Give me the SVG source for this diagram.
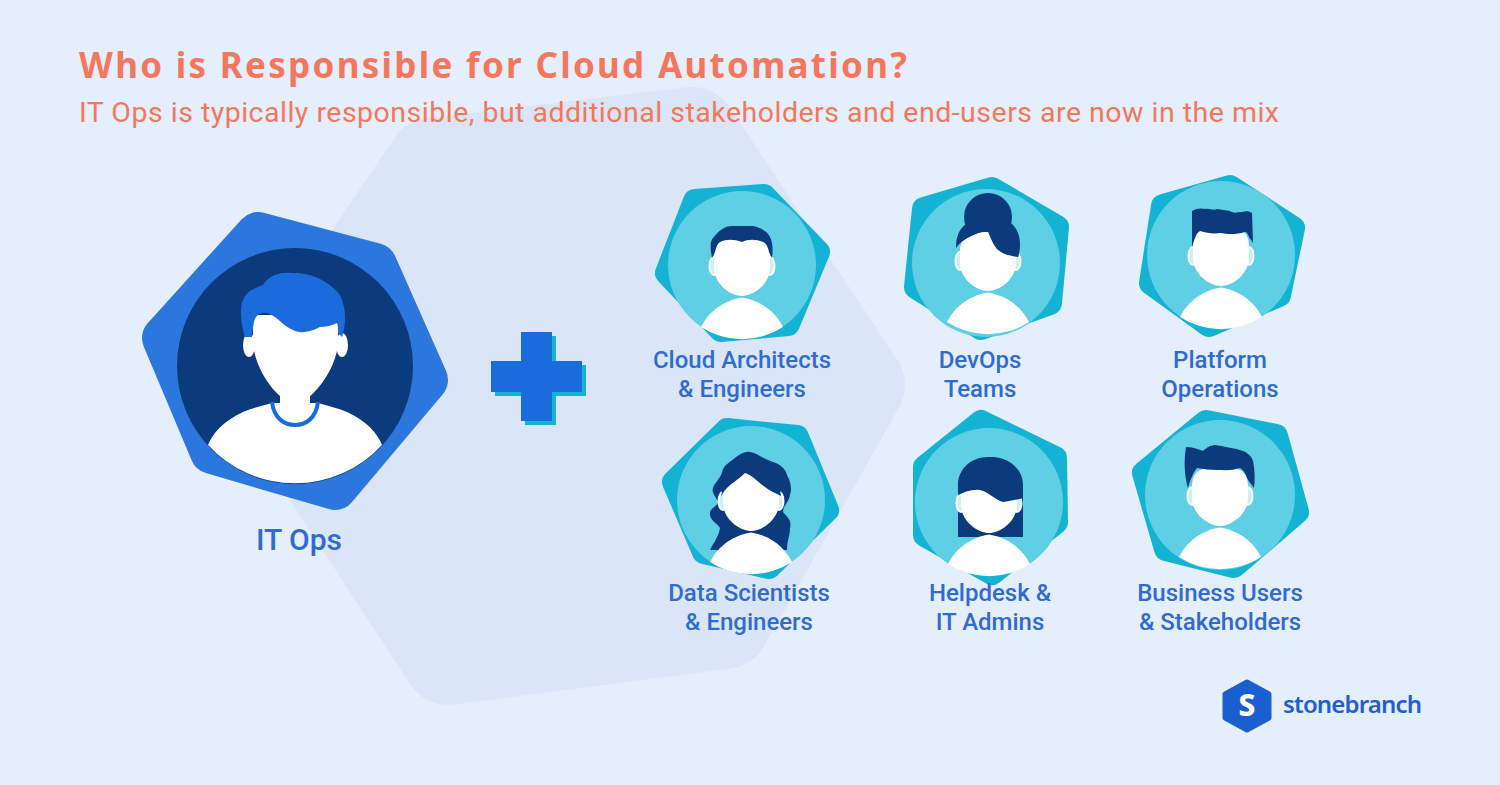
<svg xmlns="http://www.w3.org/2000/svg" width="1500" height="785" viewBox="0 0 1500 785">
<style>
.lbl{font-family:Roboto,"Liberation Sans",sans-serif;font-weight:500;font-size:24px;fill:#2f6bd0;text-anchor:middle}
.hex{fill:#14b3d3;stroke:#14b3d3;stroke-width:24;stroke-linejoin:round}
.disc{fill:#5ecfe4}
.hair{fill:#0b3a7d}
.w{fill:#fff}
.ear{fill:#cdf0f6;stroke:#fff;stroke-width:2}
</style>
<defs>
<g id="person">
<ellipse class="ear" cx="-28" cy="1" rx="4.500" ry="9"/><ellipse class="ear" cx="28" cy="1" rx="4.500" ry="9"/>
<path class="w" d="M-28,-8C-28,-24-20,-28 0,-28C20,-28 28,-24 28,-8L28,4C27,20 11,31 0,31C-11,31-27,20-28,4Z"/>
<path class="w" d="M-41,62C-35,50-22,36 0,32.500C22,36 35,50 41,62A75,75 0 0 1-41,62Z"/>
</g>
</defs>
<rect width="1500" height="785" fill="#e4eefc"/>
<polygon points="432,163 692,132 860,385 725,624 448,660 275,395" fill="#dae6f7" stroke="#dae6f7" stroke-width="90" stroke-linejoin="round"/>
<text x="79" y="78" font-family="'Noto Sans','Open Sans',sans-serif" font-weight="700" font-size="35" fill="#f4775c" textLength="828" lengthAdjust="spacing">Who is Responsible for Cloud Automation?</text>
<text x="79" y="122" font-family="Roboto,'Liberation Sans',sans-serif" font-size="28.500" fill="#f4775c" textLength="1200" lengthAdjust="spacing">IT Ops is typically responsible, but additional stakeholders and end-users are now in the mix</text>

<g id="it-ops">
<polygon points="258,234 375,265 426,380 335,488 212,452 164,338" fill="#2b77de" stroke="#2b77de" stroke-width="44" stroke-linejoin="round"/>
<circle cx="295" cy="366" r="118" fill="#0b3a7d"/>
<ellipse class="w" cx="249" cy="345" rx="6" ry="12"/><ellipse class="w" cx="342" cy="345" rx="6" ry="12"/>
<path class="w" d="M253,315L253,345C256,368 270,388 281,397L309,397C320,388 335,368 338,345L338,315Z"/>
<path class="w" d="M208,445C213,433 222,422 243,412C252,408 262,406 272,403L318,403C328,406 338,408 347,412C368,422 377,433 382,445A118,118 0 0 1 208,445Z"/>
<path class="w" d="M280,392H310V412H280Z"/>
<path d="M272,402C274,419 285,425 295,425C305,425 316,419 318,402" fill="none" stroke="#1a6cdc" stroke-width="4"/>
<path fill="#1a6cdc" d="M245,337C240,322 240,306 243,300C247,290 256,288 263,285C270,274 282,272 292,273C312,272 330,282 340,295C347,310 346,325 342,337L338,333C338,328 338,325 337,323C330,326 325,327 320,327C310,332 300,334 293,330C283,326 276,315 267,313C260,312 255,316 254,322C253,328 252,333 252,337Z"/>
<text x="299" y="550" font-family="Roboto,'Liberation Sans',sans-serif" font-weight="500" font-size="30" fill="#2f6bd0" text-anchor="middle">IT Ops</text>
</g>

<g id="plus">
<path fill="#14b3d3" d="M525,336H556V365H586V396H556V425H525V396H495V365H525Z"/>
<path fill="#1a6cdc" d="M521,332H552V361H582V392H552V421H521V392H491V361H521Z"/>
</g>

<g id="cloud-architects">
<polygon class="hex" points="764,196 818,252 788,324 721,330 667,273 695,201"/>
<circle class="disc" cx="742" cy="265" r="74"/>
<use href="#person" transform="translate(742,265)"/>
<path class="hair" transform="translate(742,265)" d="M-30,-7C-32,-18-32,-24-29,-27C-22,-36-16,-39-10,-39C-4,-39 4,-39 11,-39C20,-37 26,-33 28,-28C31,-22 31,-14 30,-7L27,-13C26,-18 24,-22 21,-23C14,-26 6,-26 0,-23C-8,-26-16,-26-22,-23C-25,-21-26,-17-27,-13Z"/>
<text class="lbl" x="742" y="368">Cloud Architects</text>
<text class="lbl" x="742" y="397">&amp; Engineers</text>
</g>

<g id="devops">
<polygon class="hex" points="992,189 1057,227 1050,303 981,328 916,287 924,209"/>
<circle class="disc" cx="986" cy="263" r="74"/>
<circle class="hair" cx="988" cy="217" r="24"/>
<use href="#person" transform="translate(988,260)"/>
<path class="hair" transform="translate(988,263)" d="M-32,-15C-32,-32-24,-40-14,-43C0,-46 14,-46 18,-43C27,-39 32,-30 32,-18C32,-12 31,-8 30,-6C22,-7 14,-9 9,-14C4,-20 2,-28-1,-33C-8,-30-25,-26-32,-15Z"/>
<text class="lbl" x="980" y="368">DevOps</text>
<text class="lbl" x="980" y="397">Teams</text>
</g>

<g id="platform">
<polygon class="hex" points="1230,187 1293,228 1279,295 1209,325 1151,283 1163,206"/>
<circle class="disc" cx="1221" cy="255" r="74"/>
<use href="#person" transform="translate(1221,255)"/>
<path class="hair" transform="translate(1221,255)" d="M-29,-8L-29,-44C-24,-47-20,-47-16,-46C-12,-47-8,-44-4,-46C0,-45 5,-45 9,-44C13,-41 17,-43 21,-43C25,-44 28,-44 31,-42L32,-12L28,-18C27,-21 26,-23 24,-23C14,-20 6,-21-1,-22C-8,-21-14,-22-21,-24C-25,-22-26,-17-29,-8Z"/>
<text class="lbl" x="1220" y="368">Platform</text>
<text class="lbl" x="1220" y="397">Operations</text>
</g>

<g id="data-scientists">
<polygon class="hex" points="727,430 797,437 827,510 769,567 704,552 674,482"/>
<circle class="disc" cx="751" cy="500" r="74"/>
<path class="hair" transform="translate(751,500)" d="M-1,-48C6,-47 14,-40 22,-38C30,-36 35,-30 36,-25C40,-18 41,-10 39,-5C38,2 32,6 32,12C36,17 41,20 39,28C39,36 36,40 36,50L-41,50C-37,42-32,36-31,28C-33,24-42,20-41,13C-41,8-33,6-33,2C-35,-3-40,-8-38,-12C-36,-18-30,-22-29,-28C-27,-36-20,-38-15,-43C-10,-46-6,-49-1,-48Z"/>
<use href="#person" transform="translate(751,500)"/>
<path class="hair" transform="translate(751,500)" d="M-30,-3C-26,-14-15,-18-6,-27C2,-25 10,-14 22,-8L30,-4L25,-32L-25,-32Z"/>
<text class="lbl" x="749" y="601">Data Scientists</text>
<text class="lbl" x="749" y="630">&amp; Engineers</text>
</g>

<g id="helpdesk">
<polygon class="hex" points="981,422 1055,458 1056,522 992,573 925,535 925,467"/>
<circle class="disc" cx="989" cy="502" r="74"/>
<path class="hair" transform="translate(989,502)" d="M-31,35V-17H34V35H-31Z"/>
<use href="#person" transform="translate(989,502)"/>
<path class="hair" transform="translate(989,502)" d="M-31,-7L-31,-17C-31,-35-15,-46 1,-45C18,-46 34,-34 34,-17L34,-4C27,-2 20,-1 14,0C6,-2 0,-10-9,-12C-17,-13-24,-10-31,-7Z"/>
<text class="lbl" x="990" y="601">Helpdesk &amp;</text>
<text class="lbl" x="990" y="630">IT Admins</text>
</g>

<g id="business-users">
<polygon class="hex" points="1206,422 1276,436 1297,512 1234,566 1166,549 1144,473"/>
<circle class="disc" cx="1220" cy="495" r="75"/>
<use href="#person" transform="translate(1220,495)"/>
<path class="hair" transform="translate(1220,495)" d="M-32,-7C-36,-20-36,-36-34,-48C-28,-48-22,-46-17,-44C-13,-48-8,-50-5,-50C5,-48 15,-47 23,-44C28,-42 32,-38 33,-34C35,-25 35,-15 34,-7L28,-15C26,-20 24,-25 20,-27C12,-24 4,-25-3,-25C-10,-25-16,-26-23,-27C-27,-22-30,-15-32,-7Z"/>
<text class="lbl" x="1220" y="601">Business Users</text>
<text class="lbl" x="1220" y="630">&amp; Stakeholders</text>
</g>

<g id="logo">
<polygon points="1247,682 1269,694 1269,718 1247,730 1225,718 1225,694" fill="#1a5fd0" stroke="#1a5fd0" stroke-width="5" stroke-linejoin="round"/>
<text x="1247" y="716" font-family="'Noto Sans',sans-serif" font-weight="800" font-size="30" fill="#fff" text-anchor="middle">S</text>
<text x="1283" y="713" font-family="'Noto Sans',sans-serif" font-weight="600" font-size="24" fill="#1f5fcf" textLength="139" lengthAdjust="spacing">stonebranch</text>
</g>
</svg>
